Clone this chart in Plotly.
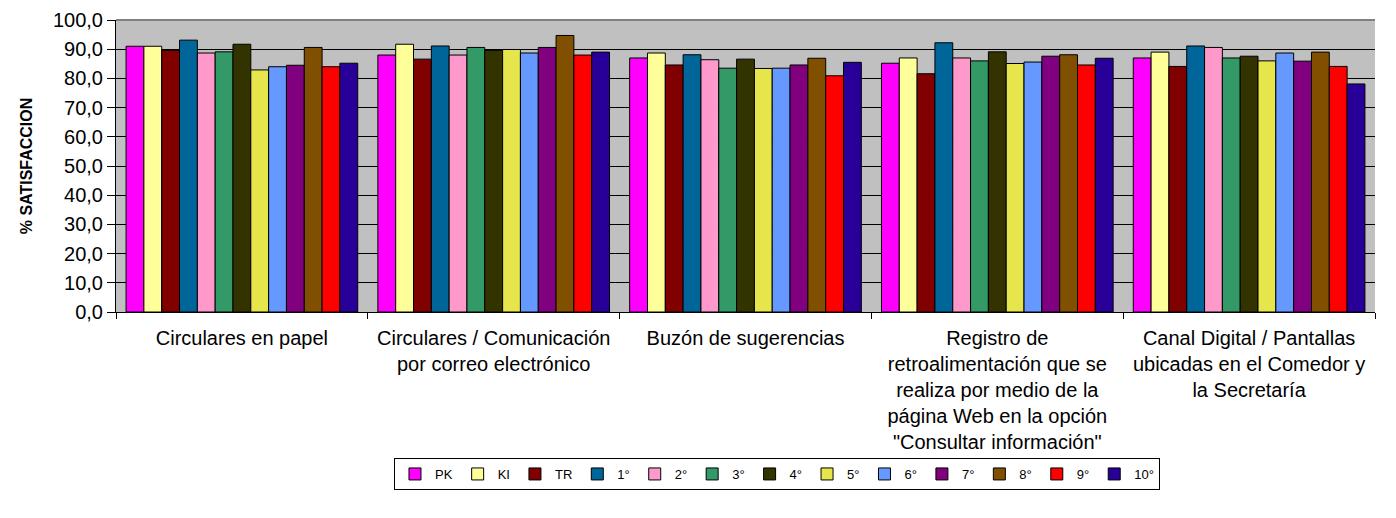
import plotly.graph_objects as go

# categorias del eje X (medios de comunicacion)
medios = [
    "Circulares en papel",
    "Circulares / Comunicación<br>por correo electrónico",
    "Buzón de sugerencias",
    "Registro de<br>retroalimentación que se<br>realiza por medio de la<br>página Web en la opción<br>\"Consultar información\"",
    "Canal Digital / Pantallas<br>ubicadas en el Comedor y<br>la Secretaría",
]

grados = ["PK", "KI", "TR", "1°", "2°", "3°", "4°", "5°", "6°", "7°", "8°", "9°", "10°"]

# % satisfaccion por grado (un valor por medio)
pk = [91.0, 88.0, 87.0, 85.2, 87.0]
ki = [91.0, 91.7, 88.7, 87.0, 89.0]
tr = [89.6, 86.6, 84.6, 81.6, 84.1]
g1 = [93.1, 91.1, 88.1, 92.2, 91.1]
g2 = [88.7, 88.0, 86.4, 87.0, 90.6]
g3 = [89.1, 90.6, 83.5, 86.0, 87.0]
g4 = [91.7, 89.6, 86.6, 89.1, 87.6]
g5 = [82.9, 89.9, 83.4, 85.1, 86.0]
g6 = [84.0, 88.7, 83.5, 85.6, 88.7]
g7 = [84.5, 90.6, 84.6, 87.6, 85.9]
g8 = [90.6, 94.7, 86.9, 88.1, 89.0]
g9 = [84.0, 88.0, 80.9, 84.6, 84.1]
g10 = [85.2, 89.0, 85.5, 86.9, 78.1]

series = [pk, ki, tr, g1, g2, g3, g4, g5, g6, g7, g8, g9, g10]

colores = ["#FF00FF", "#FFFF99", "#800000", "#006699", "#FF99CC", "#339966",
           "#333300", "#E6E64C", "#6699FF", "#800080", "#805000", "#FF0000", "#280099"]

fig = go.Figure()

for nombre, valores, color in zip(grados, series, colores):
    fig.add_trace(
        go.Bar(
            x=medios,
            y=valores,
            name=nombre,
            marker=dict(color=color, line=dict(color="black", width=1)),
        )
    )

fuente = "Liberation Sans, Arial, sans-serif"

# la pagina tiene 8px de margen en el body -> se compensa aqui
fig.update_layout(
    barmode="group",
    bargap=0.08,
    bargroupgap=0,
    width=1396,
    height=518,
    margin=dict(l=108, r=29, t=12, b=214),
    paper_bgcolor="white",
    plot_bgcolor="#C0C0C0",
    separators=",.",
    font=dict(family=fuente, size=20, color="black"),
    legend=dict(
        orientation="h",
        x=0.525,
        xanchor="center",
        y=-0.5,
        yanchor="top",
        bordercolor="black",
        borderwidth=1,
        font=dict(size=13),
        itemwidth=30,
        traceorder="normal",
        tracegroupgap=0,
    ),
    xaxis=dict(
        type="category",
        tickson="boundaries",
        ticks="outside",
        ticklen=6,
        tickcolor="black",
        showline=True,
        linecolor="black",
        showgrid=False,
        automargin=False,
        ticklabelstandoff=8,
        tickfont=dict(size=20),
    ),
    yaxis=dict(
        range=[0, 100],
        dtick=10,
        tickformat=".1f",
        ticks="outside",
        ticklen=8,
        tickcolor="black",
        showline=True,
        linecolor="black",
        gridcolor="black",
        gridwidth=1,
        zeroline=False,
        automargin=False,
        tickfont=dict(size=20),
        title=dict(text="<b>% SATISFACCION</b>", font=dict(size=16), standoff=16),
    ),
)

# borde superior gris del area de trazado
fig.add_shape(type="line", xref="paper", yref="paper", x0=0, x1=1, y0=1, y1=1,
              line=dict(color="#808080", width=2))

fig.write_html("out.html")
